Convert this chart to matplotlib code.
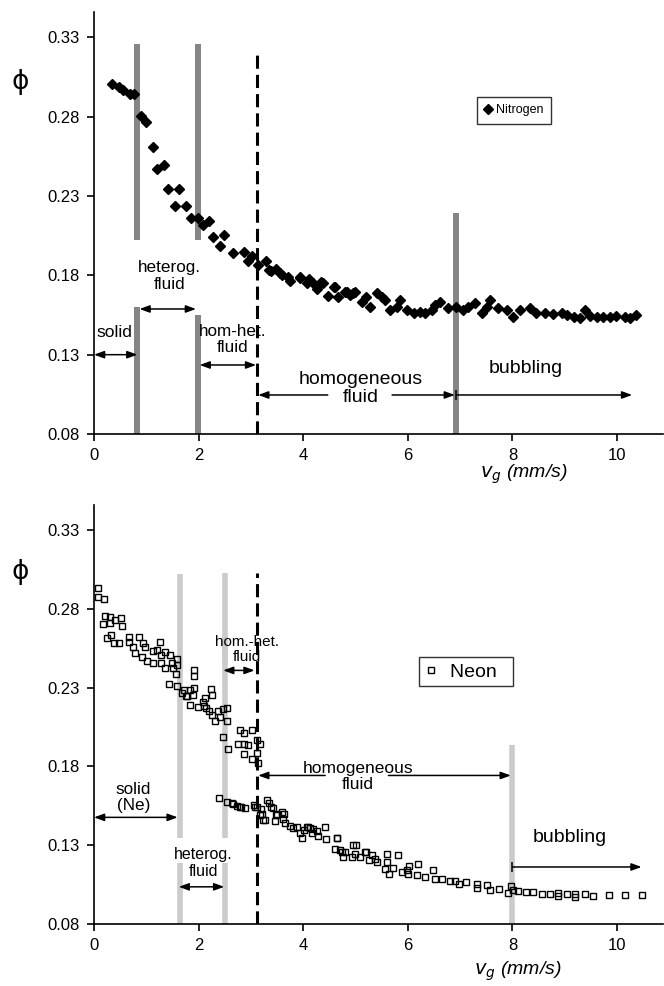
import matplotlib
matplotlib.use("Agg")
import matplotlib.pyplot as plt

plt.rcParams['font.family'] = ['Liberation Sans', 'DejaVu Sans']

# ---------------- data ----------------
n2_vg = [0.34, 0.47, 0.55, 0.68, 0.76, 0.89, 0.99, 1.12, 1.20, 1.34, 1.41, 1.63, 1.55, 1.76,
         1.85, 1.98, 2.08, 2.20, 2.28, 2.40, 2.49, 2.65, 2.86, 2.95, 3.03, 3.14, 3.29, 3.38,
         3.48, 3.59, 3.71, 3.93, 4.12, 3.35, 3.56, 3.75, 3.94, 4.07, 4.26, 4.38, 4.48, 4.61,
         4.67, 4.83, 4.96, 4.19, 4.35, 4.58, 4.80, 4.89, 4.99, 5.12, 5.21, 5.28, 5.41, 5.50,
         5.56, 5.66, 5.79, 5.85, 5.98, 6.11, 6.23, 6.33, 6.46, 6.52, 6.62, 6.77, 6.93, 7.06,
         7.16, 7.28, 7.41, 7.51, 7.57, 7.73, 7.89, 8.02, 8.15, 8.34, 8.46, 8.62, 8.78, 8.94,
         9.04, 9.17, 9.29, 9.39, 9.48, 9.61, 9.74, 9.87, 9.99, 10.15, 10.25, 10.37]
n2_phi = [0.3007, 0.2986, 0.2969, 0.2942, 0.2940, 0.2807, 0.2765, 0.2608, 0.2469, 0.2498, 0.2345,
          0.2343, 0.2240, 0.2240, 0.2160, 0.2160, 0.2118, 0.2143, 0.2040, 0.1982, 0.2052, 0.1939,
          0.1945, 0.1892, 0.1924, 0.1866, 0.1893, 0.1830, 0.1840, 0.1803, 0.1792, 0.1782, 0.1777,
          0.1834, 0.1813, 0.1767, 0.1792, 0.1750, 0.1712, 0.1750, 0.1670, 0.1725, 0.1666, 0.1697,
          0.1687, 0.1750, 0.1755, 0.1729, 0.1697, 0.1676, 0.1697, 0.1634, 0.1666, 0.1603, 0.1687,
          0.1666, 0.1645, 0.1582, 0.1603, 0.1645, 0.1582, 0.1561, 0.1571, 0.1561, 0.1582, 0.1613,
          0.1634, 0.1592, 0.1603, 0.1582, 0.1603, 0.1624, 0.1561, 0.1603, 0.1645, 0.1592, 0.1582,
          0.1540, 0.1582, 0.1592, 0.1561, 0.1561, 0.1557, 0.1561, 0.1550, 0.1536, 0.1529, 0.1582,
          0.1545, 0.1536, 0.1540, 0.1540, 0.1545, 0.1540, 0.1529, 0.1550]

ne_vg = [0.08, 0.08, 0.19, 0.21, 0.18, 0.31, 0.31, 0.40, 0.51, 0.53, 0.24, 0.32, 0.38, 0.48,
         0.66, 0.66, 0.75, 0.87, 0.94, 0.78, 0.91, 0.98, 1.12, 1.02, 1.13, 1.26, 1.20, 1.28,
         1.36, 1.45, 1.29, 1.36, 1.49, 1.52, 1.59, 1.59, 1.57, 1.44, 1.59, 1.72, 1.84, 1.77,
         1.91, 1.91, 1.91, 2.23, 2.12, 1.68, 1.76, 1.90, 1.84, 1.98, 2.08, 2.10, 2.15, 2.19,
         2.25, 2.25, 2.31, 2.38, 2.41, 2.47, 2.54, 2.54, 2.47, 2.56, 2.79, 2.87, 2.75, 2.86,
         2.95, 2.86, 3.02, 3.03, 3.11, 3.17, 3.11, 3.14,
         2.39, 2.54, 2.63, 2.73, 2.82, 2.89, 3.11, 3.06, 3.17, 3.24, 3.30, 3.38, 3.48, 3.59,
         3.62, 3.75, 3.88, 4.07, 4.19, 4.42, 2.66, 2.79, 3.08, 3.19, 3.21, 3.27, 3.35, 3.42,
         3.49, 3.63, 3.46, 3.65, 3.81, 3.94, 3.97, 4.02, 4.10, 4.16, 4.26, 4.29, 4.44, 4.64,
         4.61, 4.70, 4.80, 5.01, 4.99, 5.18, 5.31, 4.13, 4.65, 4.74, 4.77, 4.96, 4.93, 5.09,
         5.20, 5.25, 5.37, 5.41, 5.61, 5.60, 5.56, 5.65, 5.71, 5.82, 5.88, 5.98, 6.03, 6.01,
         6.20, 6.17, 6.33, 6.48, 6.52, 6.65, 6.81, 6.90, 6.98, 7.11, 7.32, 7.32, 7.51, 7.58,
         7.75, 7.92, 7.97, 8.02, 8.11, 8.26, 8.40, 8.56, 8.72, 8.88, 8.88, 9.04, 9.20, 9.20,
         9.39, 9.54, 9.85, 10.15, 10.47]
ne_phi = [0.2934, 0.2877, 0.2866, 0.2757, 0.2702, 0.2751, 0.2708, 0.2730, 0.2740, 0.2694, 0.2614,
          0.2635, 0.2582, 0.2582, 0.2624, 0.2593, 0.2561, 0.2624, 0.2582, 0.2519, 0.2498, 0.2561,
          0.2530, 0.2471, 0.2460, 0.2593, 0.2540, 0.2509, 0.2525, 0.2509, 0.2456, 0.2424, 0.2456,
          0.2424, 0.2483, 0.2445, 0.2386, 0.2323, 0.2309, 0.2288, 0.2288, 0.2246, 0.2414, 0.2372,
          0.2298, 0.2294, 0.2235, 0.2267, 0.2246, 0.2252, 0.2193, 0.2176, 0.2210, 0.2187, 0.2172,
          0.2151, 0.2256, 0.2130, 0.2088, 0.2151, 0.2113, 0.2168, 0.2172, 0.2088, 0.1987, 0.1909,
          0.2029, 0.2014, 0.1941, 0.1941, 0.1936, 0.1881, 0.1846, 0.2029, 0.1966, 0.1945, 0.1887,
          0.1825,
          0.1600, 0.1572, 0.1566, 0.1551, 0.1541, 0.1534, 0.1545, 0.1558, 0.1494, 0.1461, 0.1587,
          0.1545, 0.1494, 0.1509, 0.1467, 0.1425, 0.1414, 0.1414, 0.1404, 0.1414, 0.1562, 0.1545,
          0.1541, 0.1530, 0.1499, 0.1461, 0.1566, 0.1537, 0.1499, 0.1499, 0.1457, 0.1440, 0.1410,
          0.1376, 0.1347, 0.1398, 0.1414, 0.1376, 0.1393, 0.1356, 0.1341, 0.1347, 0.1278, 0.1267,
          0.1256, 0.1299, 0.1246, 0.1256, 0.1236, 0.1408, 0.1347, 0.1256, 0.1225, 0.1299, 0.1225,
          0.1225, 0.1256, 0.1204, 0.1214, 0.1193, 0.1246, 0.1193, 0.1151, 0.1116, 0.1157, 0.1236,
          0.1130, 0.1141, 0.1166, 0.1120, 0.1183, 0.1109, 0.1099, 0.1141, 0.1088, 0.1084, 0.1076,
          0.1073, 0.1057, 0.1067, 0.1057, 0.1031, 0.1046, 0.1019, 0.1025, 0.0998, 0.1040, 0.1015,
          0.1010, 0.1000, 0.1000, 0.0989, 0.0989, 0.0994, 0.0977, 0.0989, 0.0989, 0.0972, 0.0989,
          0.0977, 0.0987, 0.0983, 0.0983]

x_ticks = [0, 2, 4, 6, 8, 10]
y_ticks = [0.08, 0.13, 0.18, 0.23, 0.28, 0.33]
y_ticklabels = ['0.08', '0.13', '0.18', '0.23', '0.28', '0.33']

# regime boundaries (x positions) and their visible segments
top_bars_x = [0.83, 1.99, 6.93]
top_bars_segs = [[(0.08, 0.160), (0.202, 0.326)],
                 [(0.08, 0.155), (0.202, 0.326)],
                 [(0.08, 0.219)]]
top_dash_x = 3.11
top_dash_top = 0.320

bot_bars_x = [1.64, 2.50, 8.00]
bot_bars_segs = [[(0.08, 0.1185), (0.1343, 0.302)],
                 [(0.08, 0.1185), (0.1343, 0.2631), (0.2456, 0.303)],
                 [(0.08, 0.1937)]]
bot_dash_x = 3.11
bot_dash_top = 0.303

# ---------------- figure ----------------
fig = plt.figure(figsize=(6.64, 9.86), dpi=100)
ax1 = fig.add_axes([94/664, 1-434/986, 569/664, 422/986])
ax2 = fig.add_axes([94/664, 1-924/986, 569/664, 419/986])

dash_style = (0, (4.3, 2.0))


def style_axis(ax):
    ax.set_xlim(0, 10.88)
    ax.set_ylim(0.08, 0.346)
    for s in ['top', 'right']:
        ax.spines[s].set_visible(False)
    for s in ['left', 'bottom']:
        ax.spines[s].set_linewidth(1.2)
    ax.set_xticks(x_ticks)
    ax.set_yticks(y_ticks)
    ax.set_yticklabels(y_ticklabels)
    ax.tick_params(direction='out', length=5, width=1.2, labelsize=12, pad=5)


def arrow(ax, x0, x1, y, style='<|-|>', tail_bar=False):
    ax.annotate('', xy=(x1, y), xytext=(x0, y),
                arrowprops=dict(arrowstyle=style + ',head_length=0.6,head_width=0.22',
                                lw=1.1, color='black', shrinkA=0, shrinkB=0))
    if tail_bar:
        ax.plot([x0], [y], marker='|', ms=7, mew=1.1, color='black')


# ---- top: Nitrogen ----
style_axis(ax1)
for bx, segs in zip(top_bars_x, top_bars_segs):
    for (y0, y1) in segs:
        ax1.plot([bx, bx], [y0, y1], color='#858585', lw=4.3, solid_capstyle='butt', zorder=1)
ax1.plot([top_dash_x, top_dash_x], [0.08, top_dash_top], color='black', lw=2.2,
         linestyle=dash_style, zorder=2)
ax1.plot(n2_vg, n2_phi, linestyle='none', marker='D', ms=5.2, color='black',
         label='Nitrogen', zorder=3)

arrow(ax1, 0.0, 0.83, 0.130)
ax1.text(0.40, 0.1437, 'solid', fontsize=12.5, ha='center', va='center')
arrow(ax1, 0.87, 1.95, 0.1588)
ax1.text(1.45, 0.1796, 'heterog.\nfluid', fontsize=12.3, ha='center', va='center',
         linespacing=1.1)
arrow(ax1, 2.02, 3.10, 0.1235)
ax1.text(2.65, 0.1396, 'hom-het.\nfluid', fontsize=12.3, ha='center', va='center',
         linespacing=1.1)
arrow(ax1, 4.47, 3.14, 0.1046, style='-|>')
arrow(ax1, 5.70, 6.90, 0.1046, style='-|>')
ax1.text(5.10, 0.1087, 'homogeneous\nfluid', fontsize=14, ha='center', va='center',
         linespacing=1.05)
arrow(ax1, 6.93, 10.29, 0.1046, style='-|>', tail_bar=True)
ax1.text(8.26, 0.1216, 'bubbling', fontsize=14, ha='center', va='center')

leg1 = ax1.legend(loc='upper left', bbox_to_anchor=(0.673, 0.799), fontsize=9,
                  frameon=True, fancybox=False, handlelength=0.5, handletextpad=0.4,
                  borderpad=0.6, markerscale=0.9, borderaxespad=0)
leg1.get_frame().set_edgecolor('black')
leg1.get_frame().set_linewidth(1.0)

ax1.text(0.755, -0.095, r'$v_g$ (mm/s)', transform=ax1.transAxes, fontsize=14,
         style='italic', ha='center', va='center')
fig.text(20/664, 1-82/986, 'ϕ', fontsize=19, ha='center', va='center',
         family=['DejaVu Sans'])

# ---- bottom: Neon ----
style_axis(ax2)
for bx, segs in zip(bot_bars_x, bot_bars_segs):
    for (y0, y1) in segs:
        ax2.plot([bx, bx], [y0, y1], color='#cbcbcb', lw=4.0, solid_capstyle='butt', zorder=1)
ax2.plot([bot_dash_x, bot_dash_x], [0.08, bot_dash_top], color='black', lw=2.2,
         linestyle=dash_style, zorder=2)
ax2.plot(ne_vg, ne_phi, linestyle='none', marker='s', ms=5.0, mfc='none', mec='black',
         mew=1.0, label='Neon', zorder=3)

arrow(ax2, 0.0, 1.60, 0.1477)
ax2.text(0.75, 0.1605, 'solid\n(Ne)', fontsize=12.3, ha='center', va='center',
         linespacing=1.1)
arrow(ax2, 1.62, 2.49, 0.1036)
ax2.text(2.09, 0.1187, 'heterog.\nfluid', fontsize=11.5, ha='center', va='center',
         linespacing=1.1)
arrow(ax2, 2.47, 3.07, 0.2410)
ax2.text(2.92, 0.2540, 'hom.-het.\nfluid', fontsize=11, ha='center', va='center',
         linespacing=1.1)
arrow(ax2, 4.42, 3.14, 0.1743, style='-|>')
arrow(ax2, 5.63, 7.97, 0.1743, style='-|>')
ax2.text(5.05, 0.1737, 'homogeneous\nfluid', fontsize=12.5, ha='center', va='center',
         linespacing=1.05)
arrow(ax2, 8.00, 10.47, 0.1162, style='-|>', tail_bar=True)
ax2.text(9.10, 0.1346, 'bubbling', fontsize=14, ha='center', va='center')

leg2 = ax2.legend(loc='upper left', bbox_to_anchor=(0.571, 0.637), fontsize=14,
                  frameon=True, fancybox=False, handlelength=0.6, handletextpad=0.7,
                  borderpad=0.3, markerscale=0.8, borderaxespad=0)
leg2.get_frame().set_edgecolor('black')
leg2.get_frame().set_linewidth(1.0)
leg2.texts[0].set_text('Neon  ')

ax2.text(0.745, -0.113, r'$v_g$ (mm/s)', transform=ax2.transAxes, fontsize=14,
         style='italic', ha='center', va='center')
fig.text(20/664, 1-572/986, 'ϕ', fontsize=19, ha='center', va='center',
         family=['DejaVu Sans'])

fig.savefig('out.png', dpi=100)
